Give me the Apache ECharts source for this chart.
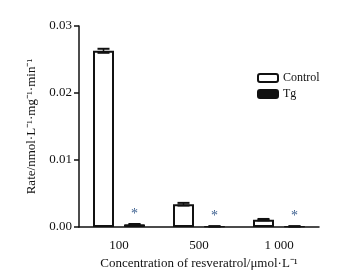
<!DOCTYPE html>
<html><head><meta charset="utf-8">
<script src="https://cdn.jsdelivr.net/npm/echarts@6/dist/echarts.min.js"></script>
<style>html,body{margin:0;padding:0;background:#fff}#c{width:351px;height:278px}</style>
</head><body><div id="c"></div>
<script>
const categories = ['100', '500', '1 000'];
const controlValues = [0.0263, 0.0034, 0.0011];
const controlErrors = [0.0003, 0.0002, 0.0001];
const tgValues = [0.0004, 0.0001, 0.0001];
const tgErrors = [0.00005, 0.00002, 0.00002];
const yTicks = [0, 0.01, 0.02, 0.03];

const FONT = 'Liberation Serif';
const BAR_W = 21, GAP = 10;
const chart = echarts.init(document.getElementById('c'));

function errSeries(vals, errs, offset) {
  return {
    type: 'custom', silent: true, z: 5,
    data: vals.map((v, i) => [i, v, errs[i]]),
    renderItem: function (params, api) {
      const i = api.value(0), v = api.value(1), e = api.value(2);
      const hi = api.coord([i, v + e]);
      const lo = api.coord([i, v - e]);
      const x = hi[0] + offset;
      const cap = 6;
      return { type: 'group', children: [
        { type: 'line', shape: { x1: x, y1: hi[1], x2: x, y2: lo[1] }, style: { stroke: '#111', lineWidth: 1.5 } },
        { type: 'line', shape: { x1: x - cap, y1: hi[1], x2: x + cap, y2: hi[1] }, style: { stroke: '#111', lineWidth: 2 } },
        { type: 'line', shape: { x1: x - cap, y1: lo[1], x2: x + cap, y2: lo[1] }, style: { stroke: '#111', lineWidth: 2 } }
      ]};
    }
  };
}

chart.setOption({
  animation: false,
  textStyle: { fontFamily: FONT },
  grid: { left: 79, right: 32, top: 26, bottom: 51 },
  legend: {
    orient: 'vertical', left: 252, top: 67, itemWidth: 20, itemHeight: 8, itemGap: 4,
    textStyle: { fontFamily: FONT, fontSize: 12, color: '#111' },
    data: ['Control', 'Tg']
  },
  xAxis: {
    type: 'category', data: categories,
    axisLine: { lineStyle: { color: '#111', width: 1.5 } },
    axisTick: { alignWithLabel: true, length: 5, lineStyle: { color: '#111', width: 1.5 } },
    axisLabel: { fontFamily: FONT, fontSize: 13, color: '#111', margin: 12 },
    name: 'Concentration of resveratrol/μmol·L⁻¹', nameLocation: 'middle', nameGap: 30,
    nameTextStyle: { fontFamily: FONT, fontSize: 13, color: '#111' }
  },
  yAxis: {
    type: 'value', min: 0, max: 0.03, interval: 0.01,
    axisLine: { show: true, lineStyle: { color: '#111', width: 1.5 } },
    axisTick: { show: true, length: 5, lineStyle: { color: '#111', width: 1.5 } },
    splitLine: { show: false },
    axisLabel: { fontFamily: FONT, fontSize: 13, color: '#111', margin: 7, formatter: v => v.toFixed(2) },
    name: 'Rate/nmol·L⁻¹·mg⁻¹·min⁻¹', nameLocation: 'middle', nameGap: 35,
    nameTextStyle: { fontFamily: FONT, fontSize: 13, color: '#111' }
  },
  series: [
    { name: 'Control', type: 'bar', data: controlValues, barWidth: BAR_W, barGap: (GAP / BAR_W * 100) + '%',
      itemStyle: { color: '#fff', borderColor: '#111', borderWidth: 2 } },
    { name: 'Tg', type: 'bar', data: tgValues, barWidth: BAR_W,
      itemStyle: { color: '#111', borderColor: '#111', borderWidth: 1 },
      label: { show: true, position: 'top', distance: 3, formatter: '*', fontSize: 14, fontFamily: FONT, color: '#3b5f8f' } },
    errSeries(controlValues, controlErrors, -(BAR_W + GAP) / 2),
    errSeries(tgValues, tgErrors, (BAR_W + GAP) / 2)
  ]
});
</script></body></html>
